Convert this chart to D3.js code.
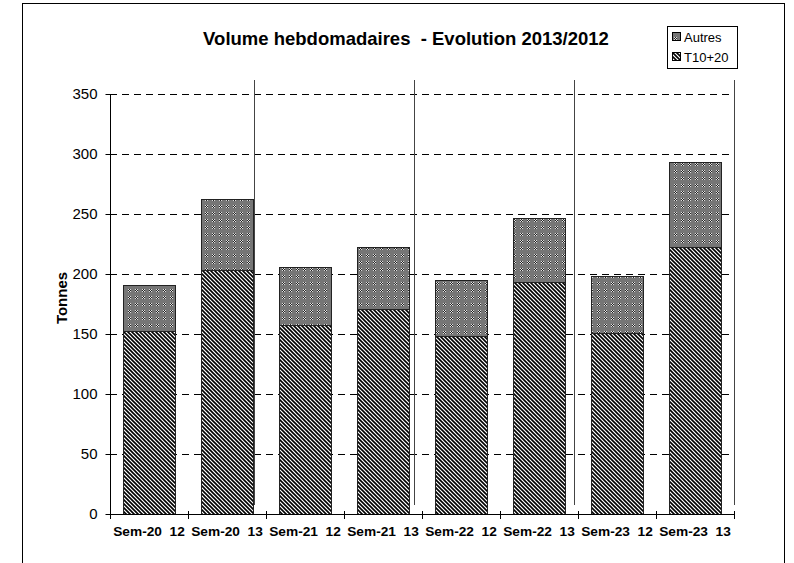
<!DOCTYPE html>
<html>
<head>
<meta charset="utf-8">
<script src="https://cdn.jsdelivr.net/npm/d3@7"></script>
<style>
  html, body { margin: 0; padding: 0; background: #fff; }
  svg { display: block; font-family: "Liberation Sans", Arial, sans-serif; }
</style>
</head>
<body>
<svg id="chart" width="794" height="563"></svg>
<script>
const categories = ["Sem-20  12", "Sem-20  13", "Sem-21  12", "Sem-21  13", "Sem-22  12", "Sem-22  13", "Sem-23  12", "Sem-23  13"];
const t1020 = [152.8, 203.4, 157.2, 171.2, 148.3, 193.6, 150.8, 222.6];
const autres = [38.2, 59.0, 48.9, 51.0, 46.9, 52.9, 47.4, 71.0];
const yTicks = [0, 50, 100, 150, 200, 250, 300, 350];
const seriesNames = ["Autres", "T10+20"];
const separators = [1, 2, 3, 4];

(function () {
const svg = d3.select("#chart");
const defs = svg.append("defs");

// hatch pattern for T10+20
const ph = defs.append("pattern").attr("id", "hatch").attr("patternUnits", "userSpaceOnUse")
  .attr("width", 4).attr("height", 4);
ph.append("rect").attr("width", 4).attr("height", 4).attr("fill", "#fff");
ph.append("path").attr("d", "M-1,-1 L5,5 M-1,3 L1,5 M3,-1 L5,1")
  .attr("stroke", "#000").attr("stroke-width", 1.6);

// dotted gray pattern for Autres
const pd = defs.append("pattern").attr("id", "dots").attr("patternUnits", "userSpaceOnUse")
  .attr("width", 7).attr("height", 7);
pd.append("rect").attr("width", 7).attr("height", 7).attr("fill", "#767676");
[[2,2,"#ddd"],[4,2,"#ddd"],[3,3,"#eee"],[2,4,"#ddd"],[4,4,"#ddd"],
 [3,2,"#222"],[2,3,"#222"],[4,3,"#222"],[3,4,"#222"]].forEach(([px,py,c]) => {
  pd.append("rect").attr("x", px).attr("y", py).attr("width", 1).attr("height", 1).attr("fill", c);
});

// outer frame
svg.append("rect").attr("x", 22.5).attr("y", 3.5).attr("width", 762).attr("height", 600)
  .attr("fill", "none").attr("stroke", "#000").attr("stroke-width", 1);

const pLeft = 110, pRight = 734, pTop = 94, pBottom = 514;
const x = d3.scaleBand().domain(categories).range([pLeft, pRight]).paddingInner(0.33).paddingOuter(0.165);
const xb = d3.scaleBand().domain(categories).range([pLeft, pRight]);
const y = d3.scaleLinear().domain([0, 350]).range([pBottom, pTop]);
const sx = d3.scaleLinear().domain([0, 4]).range([pRight - 640, pRight]);

// gridlines
svg.append("g").selectAll("line").data(yTicks.filter(d => d > 0)).join("line")
  .attr("x1", pLeft).attr("x2", pRight)
  .attr("y1", d => Math.round(y(d)) + 0.5).attr("y2", d => Math.round(y(d)) + 0.5)
  .attr("stroke", "#000").attr("stroke-dasharray", "7,5");

// group separators
svg.append("g").selectAll("line").data(separators).join("line")
  .attr("x1", d => Math.round(sx(d)) + 0.5).attr("x2", d => Math.round(sx(d)) + 0.5)
  .attr("y1", 80).attr("y2", 505)
  .attr("stroke", "#444").attr("stroke-width", 1);

// bars
const rows = categories.map((c, i) => ({ c, t: t1020[i], a: autres[i] }));
const g = svg.append("g");
g.selectAll("rect.t").data(rows).join("rect").attr("class", "t")
  .attr("x", d => Math.round(x(d.c)) + 0.5).attr("width", Math.round(x.bandwidth()))
  .attr("y", d => Math.round(y(d.t)) + 0.5).attr("height", d => Math.round(y(0)) - Math.round(y(d.t)))
  .attr("fill", "url(#hatch)").attr("stroke", "#222").attr("stroke-width", 1);
g.selectAll("rect.a").data(rows).join("rect").attr("class", "a")
  .attr("x", d => Math.round(x(d.c)) + 0.5).attr("width", Math.round(x.bandwidth()))
  .attr("y", d => Math.round(y(d.t + d.a)) + 0.5).attr("height", d => Math.round(y(d.t)) - Math.round(y(d.t + d.a)))
  .attr("fill", "url(#dots)").attr("stroke", "#222").attr("stroke-width", 1);

// y axis
const ya = svg.append("g").attr("transform", `translate(${pLeft + 0.5},0)`)
  .call(d3.axisLeft(y).tickValues(yTicks).tickSize(0).tickPadding(13));
ya.select(".domain").remove();
ya.append("line").attr("x1", 0).attr("x2", 0).attr("y1", pTop).attr("y2", pBottom).attr("stroke", "#000");
ya.selectAll(".tick").append("line").attr("x1", -5).attr("x2", 4).attr("stroke", "#000");
ya.selectAll("text").attr("font-size", 15).attr("fill", "#000")
  .attr("font-family", "Liberation Sans, Arial, sans-serif");

// x axis
svg.append("line").attr("x1", pLeft).attr("x2", pRight + 1)
  .attr("y1", pBottom + 0.5).attr("y2", pBottom + 0.5).attr("stroke", "#000");
const edges = categories.map(c => xb(c)).concat([pRight]);
svg.append("g").selectAll("line").data(edges).join("line")
  .attr("x1", d => Math.round(d) + 0.5).attr("x2", d => Math.round(d) + 0.5)
  .attr("y1", pBottom - 3).attr("y2", pBottom + 5).attr("stroke", "#000");
svg.append("g").selectAll("text").data(categories).join("text")
  .attr("x", d => xb(d) + xb.bandwidth() / 2).attr("y", 536)
  .attr("text-anchor", "middle").attr("font-size", 13.7).attr("font-weight", "bold")
  .attr("xml:space", "preserve").style("white-space", "pre")
  .text(d => d);

// y title
svg.append("text").attr("transform", "translate(67,298) rotate(-90)")
  .attr("text-anchor", "middle").attr("font-size", 15).attr("font-weight", "bold").text("Tonnes");

// title
svg.append("text").attr("x", 406).attr("y", 45).attr("text-anchor", "middle")
  .attr("font-size", 18.5).attr("font-weight", "bold")
  .attr("xml:space", "preserve").style("white-space", "pre")
  .text("Volume hebdomadaires  - Evolution 2013/2012");

// legend
const lg = svg.append("g");
lg.append("rect").attr("x", 667.5).attr("y", 26.5).attr("width", 70).attr("height", 42)
  .attr("fill", "#fff").attr("stroke", "#000");
const fills = ["url(#dots)", "url(#hatch)"];
seriesNames.forEach((n, i) => {
  const yy = 32 + i * 20;
  lg.append("rect").attr("x", 672.5).attr("y", yy + 0.5).attr("width", 8).attr("height", 8)
    .attr("fill", fills[i]).attr("stroke", "#000");
  lg.append("text").attr("x", 684).attr("y", yy + 9.5).attr("font-size", 13).text(n);
});
})();
</script>
</body>
</html>
